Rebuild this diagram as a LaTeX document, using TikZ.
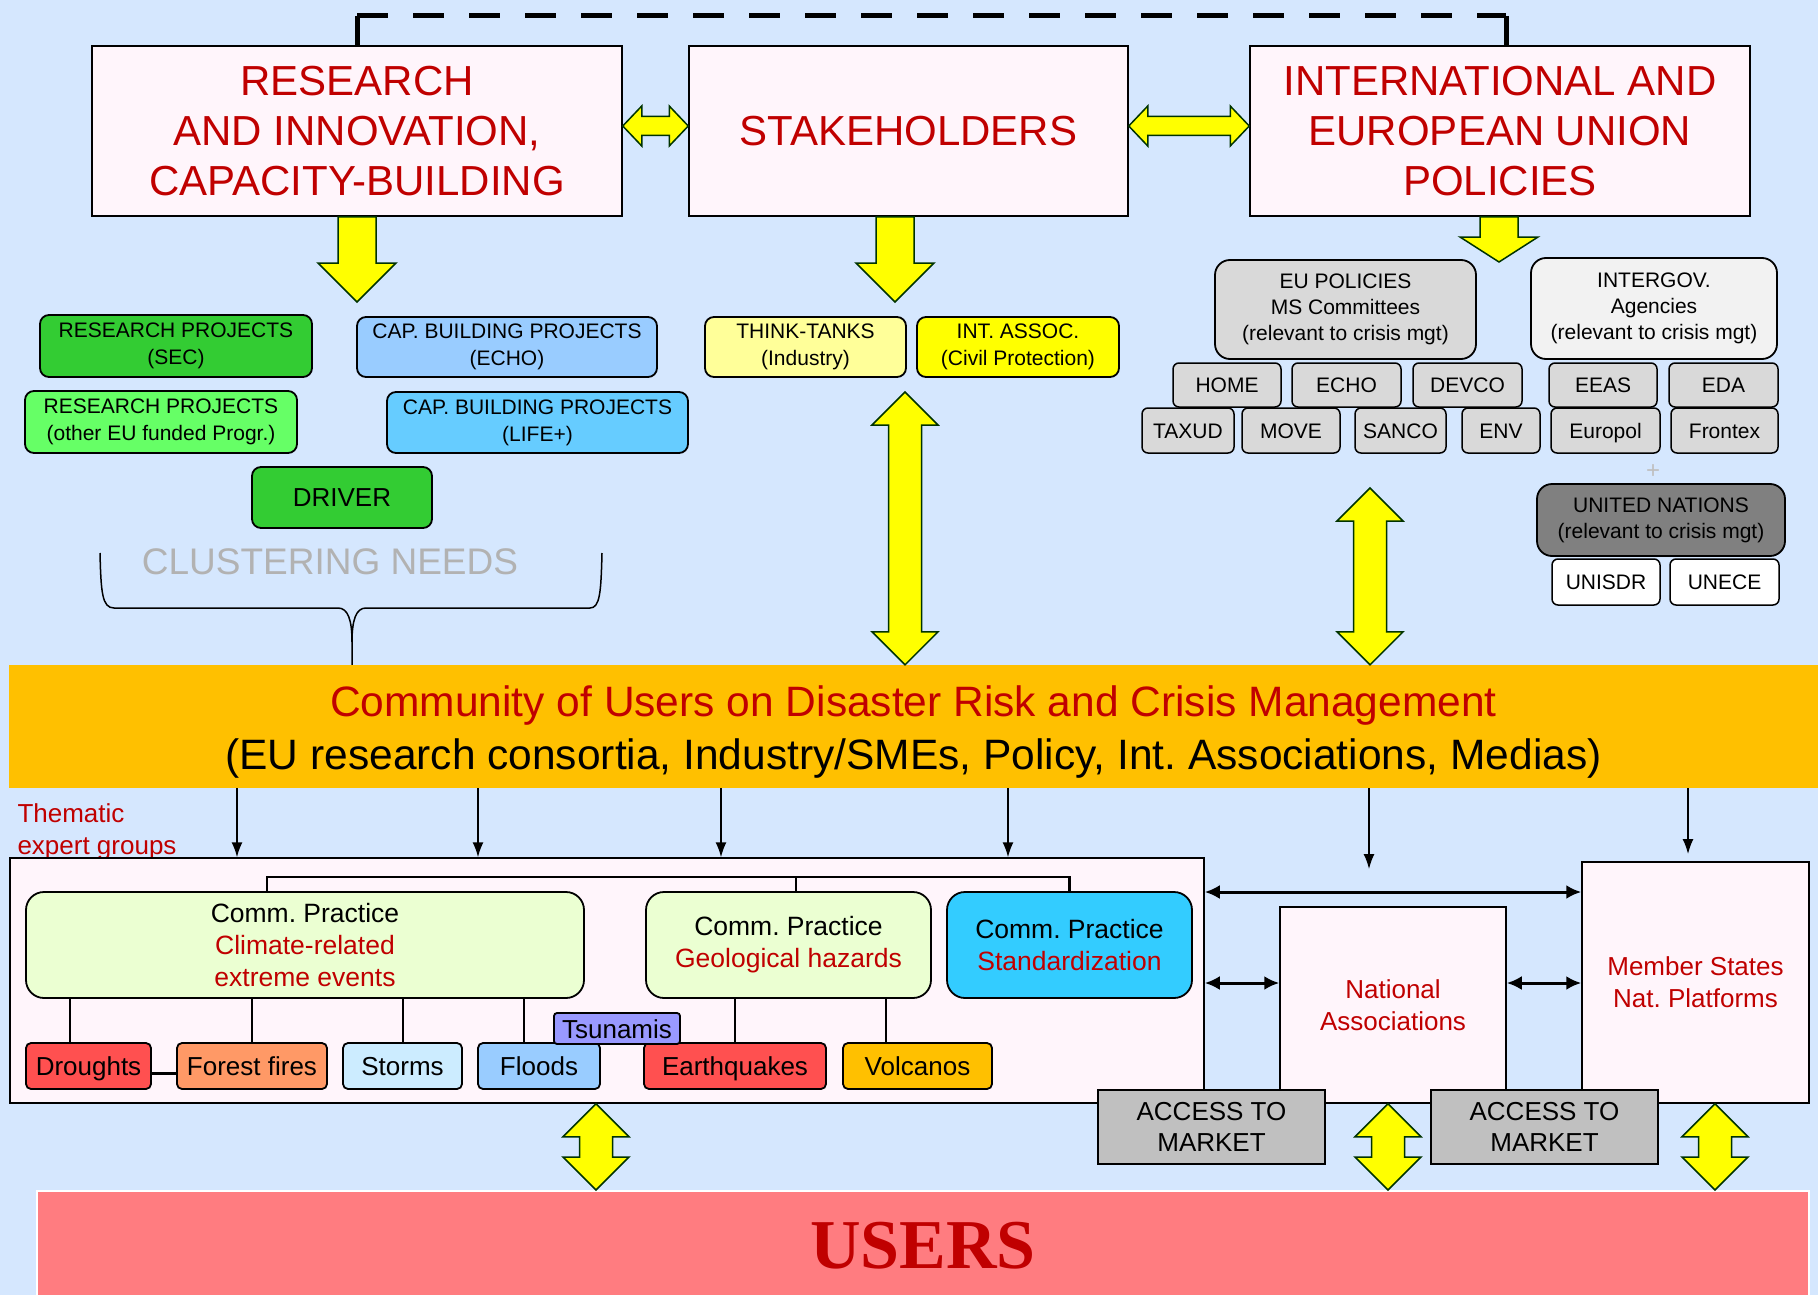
\documentclass[tikz,border=0pt]{standalone}
\usepackage{xcolor}
\usepackage{tikz}
\usetikzlibrary{calc}
\usetikzlibrary{arrows.meta}
\usepackage{fontspec}
\setmainfont{Liberation Sans}
\newfontfamily\usersfont{Liberation Serif}
\frenchspacing

\definecolor{skyback}{RGB}{213,231,254}
\definecolor{boxpink}{RGB}{255,245,251}
\definecolor{titlered}{RGB}{192,0,0}
\definecolor{greenA}{RGB}{51,204,51}
\definecolor{greenB}{RGB}{102,255,102}
\definecolor{blueA}{RGB}{153,204,255}
\definecolor{blueB}{RGB}{102,204,255}
\definecolor{grayA}{RGB}{217,217,217}
\definecolor{grayB}{RGB}{242,242,242}
\definecolor{grayUN}{RGB}{128,128,128}
\definecolor{yellowA}{RGB}{255,255,153}
\definecolor{yellowB}{RGB}{255,255,0}
\definecolor{orangebar}{RGB}{255,192,0}
\definecolor{practice}{RGB}{235,255,210}
\definecolor{cyanA}{RGB}{51,204,255}
\definecolor{redhaz}{RGB}{255,80,80}
\definecolor{orangehaz}{RGB}{255,153,102}
\definecolor{paleblue}{RGB}{204,236,255}
\definecolor{tsunamiblue}{RGB}{153,153,255}
\definecolor{accgray}{RGB}{192,192,192}
\definecolor{userspink}{RGB}{255,124,128}
\definecolor{arrowline}{RGB}{0,51,0}
\definecolor{clustergray}{RGB}{178,178,178}

\tikzset{
  spanbox/.style n args={4}{minimum width={(#3)-(#1)}, minimum height={(#4)-(#2)}, at={({((#1)+(#3))/2},{((#2)+(#4))/2})}},
  bigbox/.style={draw=black, line width=1.5pt, fill=boxpink, inner sep=0pt, align=center, text=titlered, font=\fontsize{42}{50}\selectfont},
  projbox/.style={draw=black, line width=1.8pt, rounded corners=9pt, inner sep=0pt, align=center, font=\fontsize{21}{27}\selectfont},
  polbox/.style={draw=black, line width=1.8pt, rounded corners=15pt, inner sep=0pt, align=center, font=\fontsize{21}{26}\selectfont},
  dgbox/.style={draw=black, line width=1.5pt, fill=grayA, rounded corners=6pt, inner sep=0pt, text height=15pt, text depth=0pt, font=\fontsize{21}{25}\selectfont},
  cpbox/.style={draw=black, line width=1.8pt, fill=practice, rounded corners=18pt, inner sep=0pt, align=center, font=\fontsize{26.5}{32}\selectfont},
  hazbox/.style={draw=black, line width=1.8pt, rounded corners=5pt, inner sep=0pt, text height=19pt, text depth=0pt, font=\fontsize{26}{30}\selectfont},
  platbox/.style={draw=black, line width=1.5pt, fill=boxpink, inner sep=0pt, align=center, text=titlered, font=\fontsize{26}{32}\selectfont},
  accbox/.style={draw=black, line width=1.8pt, fill=accgray, inner sep=0pt, align=center, font=\fontsize{26}{31}\selectfont},
  yblock/.style={fill=yellowB, draw=arrowline, line width=1.5pt, line join=miter},
  ydown/.style={yblock, to path={let \p1=(\tikztostart), \p2=(\tikztotarget) in
      (\x1-19pt,\y1) -- (\x1-19pt,\y2+#1) -- (\x1-39pt,\y2+#1) -- (\x2,\y2)
      -- (\x1+39pt,\y2+#1) -- (\x1+19pt,\y2+#1) -- (\x1+19pt,\y1) -- cycle}},
  yboth/.style={yblock, to path={let \p1=(\tikztostart), \p2=(\tikztotarget) in
      (\x1,\y1) -- (\x1+33pt,\y1-33pt) -- (\x1+16.5pt,\y1-33pt) -- (\x1+16.5pt,\y2+33pt)
      -- (\x1+33pt,\y2+33pt) -- (\x2,\y2) -- (\x1-33pt,\y2+33pt) -- (\x1-16.5pt,\y2+33pt)
      -- (\x1-16.5pt,\y1-33pt) -- (\x1-33pt,\y1-33pt) -- cycle}},
  yside/.style={yblock, to path={let \p1=(\tikztostart), \p2=(\tikztotarget) in
      (\x1,\y1) -- (\x1+19pt,\y1+20pt) -- (\x1+19pt,\y1+9.5pt) -- (\x2-19pt,\y1+9.5pt)
      -- (\x2-19pt,\y1+20pt) -- (\x2,\y2) -- (\x2-19pt,\y1-20pt) -- (\x2-19pt,\y1-9.5pt)
      -- (\x1+19pt,\y1-9.5pt) -- (\x1+19pt,\y1-20pt) -- cycle}},
  link/.style={draw=black, line width=1.5pt, -{Latex[length=15pt,width=11pt]}},
  duplex/.style={draw=black, line width=3pt, {Latex[length=15pt,width=14pt]}-{Latex[length=15pt,width=14pt]}},
  treeline/.style={draw=black, line width=2.5pt},
  twig/.style={draw=black, line width=1.5pt},
}

\begin{document}
\begin{tikzpicture}[x=1pt,y=-1pt]
   \useasboundingbox (0,0) rectangle (1818,1295);
   \fill[skyback] (0,0) rectangle (1818,1295);

   \node[bigbox, spanbox={92}{46}{622}{216}] (research) {RESEARCH\\AND INNOVATION,\\CAPACITY-BUILDING};
   \node[bigbox, spanbox={689}{46}{1128}{216}] (stake) {STAKEHOLDERS};
   \node[bigbox, spanbox={1250}{46}{1750}{216}] (intl) {INTERNATIONAL AND\\EUROPEAN UNION\\POLICIES};

   \coordinate (dl) at (357,16);
   \coordinate (dr) at (1506,16);
   \draw[line width=5pt] (research.north) -- (dl);
   \draw[line width=5pt, dash pattern=on 31pt off 25pt] (dl) -- (dr);
   \draw[line width=5pt] (dr) -- (dr |- intl.north);

   \coordinate (h1a) at ([yshift=5pt]research.east);
   \coordinate (h1b) at ([yshift=5pt]stake.west);
   \coordinate (h2a) at ([yshift=5pt]stake.east);
   \coordinate (h2b) at ([yshift=5pt]intl.west);
   \draw[yside] (h1a) to (h1b);
   \draw[yside] (h2a) to (h2b);

   \coordinate (rtip) at (357,302);
   \coordinate (stip) at (895,302);
   \coordinate (itip) at (1499,262);
   \draw[ydown=39pt] (research.south) to (rtip);
   \draw[ydown=39pt] (stip |- stake.south) to (stip);
   \draw[ydown=25pt] (itip |- intl.south) to (itip);

   \node[projbox, fill=greenA, spanbox={40}{315}{312}{377}] (rpsec) {RESEARCH PROJECTS\\(SEC)};
   \node[projbox, fill=greenB, spanbox={25}{391}{297}{453}] (rpother) {RESEARCH PROJECTS\\(other EU funded Progr.)};
   \node[projbox, fill=blueA, spanbox={357}{317}{657}{377}] (cbecho) {CAP. BUILDING PROJECTS\\(ECHO)};
   \node[projbox, fill=blueB, spanbox={387}{392}{688}{453}] (cblife) {CAP. BUILDING PROJECTS\\(LIFE+)};
   \node[projbox, fill=greenA, font=\fontsize{26}{30}\selectfont, spanbox={252}{467}{432}{528}] (driver) {DRIVER};
   \node[text=clustergray, font=\fontsize{37}{40}\selectfont] (clusterneeds) at (330,562) {CLUSTERING NEEDS};

   \node[projbox, fill=yellowA, spanbox={705}{317}{906}{377}] (think) {THINK-TANKS\\(Industry)};
   \node[projbox, fill=yellowB, spanbox={917}{317}{1119}{377}] (intassoc) {INT. ASSOC.\\(Civil Protection)};

   \node[polbox, fill=grayA, spanbox={1215}{260}{1476}{359}] (eupol) {EU POLICIES\\MS Committees\\(relevant to crisis mgt)};
   \node[polbox, fill=grayB, spanbox={1531}{258}{1777}{359}] (intergov) {INTERGOV.\\Agencies\\(relevant to crisis mgt)};
   \node[dgbox, spanbox={1173}{363}{1281}{407}] (home) {HOME};
   \node[dgbox, spanbox={1292}{363}{1401}{407}] (echo) {ECHO};
   \node[dgbox, spanbox={1413}{363}{1522}{407}] (devco) {DEVCO};
   \node[dgbox, spanbox={1549}{363}{1657}{407}] (eeas) {EEAS};
   \node[dgbox, spanbox={1669}{363}{1778}{407}] (eda) {EDA};
   \node[dgbox, spanbox={1142}{408}{1234}{453}] (taxud) {TAXUD};
   \node[dgbox, spanbox={1242}{408}{1340}{453}] (move) {MOVE};
   \node[dgbox, spanbox={1355}{408}{1446}{453}] (sanco) {SANCO};
   \node[dgbox, spanbox={1462}{408}{1540}{453}] (env) {ENV};
   \node[dgbox, spanbox={1551}{408}{1660}{453}] (europol) {Europol};
   \node[dgbox, spanbox={1671}{408}{1778}{453}] (frontex) {Frontex};
   \node[text=gray!50, font=\fontsize{24}{24}\selectfont] (plus) at (1653,472) {+};
   \node[polbox, fill=grayUN, spanbox={1537}{484}{1785}{556}] (un) {UNITED NATIONS\\(relevant to crisis mgt)};
   \node[dgbox, fill=white, spanbox={1552}{559}{1660}{605}] (unisdr) {UNISDR};
   \node[dgbox, fill=white, spanbox={1670}{559}{1779}{605}] (unece) {UNECE};

   \node[spanbox={9}{665}{1818}{788}, fill=orangebar, inner sep=0pt] (bar) {};
   \node[align=center, font=\fontsize{42.5}{53}\selectfont] (bartext) at ([yshift=-6pt]bar.center)
      {\textcolor{titlered}{Community of Users on Disaster Risk and Crisis Management}\\(EU research consortia, Industry/SMEs, Policy, Int. Associations, Medias)};

   \draw[line width=1.5pt] (100,553) .. controls (101,592) and (102,608) .. (114,608) -- (338,608)
      .. controls (348,608) and (352,620) .. (352,642) -- (bar.north -| 352,0);
   \draw[line width=1.5pt] (602,553) .. controls (601,592) and (600,608) .. (590,608) -- (366,608)
      .. controls (356,608) and (352,620) .. (352,642);

   \coordinate (ctip) at (905,392);
   \coordinate (ptip) at (1370,488);
   \draw[yboth] (ctip) to (ctip |- bar.north);
   \draw[yboth] (ptip) to (ptip |- bar.north);

   \node[anchor=west, align=left, text=titlered, font=\fontsize{26}{32}\selectfont] (thematic) at (14,832) {Thematic\\expert groups};

   \node[spanbox={10}{858}{1204}{1103}, draw=black, line width=1.5pt, fill=boxpink, inner sep=0pt] (theme) {};
   \coordinate (tl) at (267,877);
   \coordinate (tm) at (796,877);
   \node[cpbox, spanbox={26}{892}{584}{998}] (cpclimate) {Comm. Practice\\\textcolor{titlered}{Climate-related}\\\textcolor{titlered}{extreme events}};
   \node[cpbox, spanbox={646}{892}{931}{998}] (cpgeo) {Comm. Practice\\\textcolor{titlered}{Geological hazards}};
   \node[cpbox, fill=cyanA, spanbox={947}{892}{1192}{998}] (cpstd) {Comm. Practice\\\textcolor{titlered}{Standardization}};
   \draw[treeline] (cpclimate.north -| tl) -- (tl) -| (cpstd.north);
   \draw[treeline] (tm) -- (cpgeo.north -| tm);

   \node[hazbox, fill=redhaz, spanbox={26}{1043}{151}{1089}] (droughts) {Droughts};
   \node[hazbox, fill=orangehaz, spanbox={177}{1043}{327}{1089}] (fires) {Forest fires};
   \node[hazbox, fill=paleblue, spanbox={343}{1043}{462}{1089}] (storms) {Storms};
   \node[hazbox, fill=blueA, spanbox={478}{1043}{600}{1089}] (floods) {Floods};
   \node[hazbox, fill=redhaz, spanbox={644}{1043}{826}{1089}] (quakes) {Earthquakes};
   \node[hazbox, fill=orangebar, spanbox={843}{1043}{992}{1089}] (volcanos) {Volcanos};
   \node[hazbox, fill=tsunamiblue, rounded corners=3pt, spanbox={554}{1013}{680}{1044}] (tsunamis) {Tsunamis};

   \coordinate (c1) at (70,0);
   \coordinate (c2) at (252,0);
   \coordinate (c3) at (403,0);
   \coordinate (c4) at (524,0);
   \coordinate (c5) at (735,0);
   \coordinate (c6) at (886,0);
   \draw[twig] (cpclimate.south -| c1) -- (droughts.north -| c1);
   \draw[twig] (cpclimate.south -| c2) -- (fires.north -| c2);
   \draw[twig] (cpclimate.south -| c3) -- (storms.north -| c3);
   \draw[twig] (cpclimate.south -| c4) -- (floods.north -| c4);
   \draw[twig] (cpgeo.south -| c5) -- (quakes.north -| c5);
   \draw[twig] (cpgeo.south -| c6) -- (volcanos.north -| c6);
   \draw[line width=3pt] ([yshift=-7pt]droughts.east) -- ([yshift=-7pt]fires.west);

   \node[platbox, spanbox={1280}{907}{1506}{1103}] (natassoc) {National\\Associations};
   \node[platbox, spanbox={1582}{862}{1809}{1103}] (memberstates) {Member States\\Nat. Platforms};

   \coordinate (g1) at (237,0);
   \coordinate (g2) at (478,0);
   \coordinate (g3) at (721,0);
   \coordinate (g4) at (1008,0);
   \coordinate (g5) at (1369,869);
   \coordinate (g6) at (1688,854);
   \draw[link] (bar.south -| g1) -- (theme.north -| g1);
   \draw[link] (bar.south -| g2) -- (theme.north -| g2);
   \draw[link] (bar.south -| g3) -- (theme.north -| g3);
   \draw[link] (bar.south -| g4) -- (theme.north -| g4);
   \draw[link] (bar.south -| g5) -- (g5);
   \draw[link] (bar.south -| g6) -- (g6);

   \coordinate (duptop) at (0,892);
   \coordinate (dupmid) at (0,983);
   \draw[duplex] (theme.east |- duptop) -- (memberstates.west |- duptop);
   \draw[duplex] (theme.east |- dupmid) -- (natassoc.west |- dupmid);
   \draw[duplex] (natassoc.east |- dupmid) -- (memberstates.west |- dupmid);

   \node[accbox, spanbox={1098}{1090}{1325}{1164}] (market1) {ACCESS TO\\MARKET};
   \node[accbox, spanbox={1431}{1090}{1658}{1164}] (market2) {ACCESS TO\\MARKET};

   \node[spanbox={37}{1191}{1809}{1300}, fill=userspink, draw=white, line width=2pt, inner sep=0pt,
      text=titlered, font=\usersfont\bfseries\fontsize{70}{80}\selectfont] (users) {USERS};

   \coordinate (l1) at (596,0);
   \coordinate (l2) at (1388,0);
   \coordinate (l3) at (1715,0);
   \draw[yboth] (theme.south -| l1) to (users.north -| l1);
   \draw[yboth] (natassoc.south -| l2) to (users.north -| l2);
   \draw[yboth] (memberstates.south -| l3) to (users.north -| l3);
\end{tikzpicture}
\end{document}
